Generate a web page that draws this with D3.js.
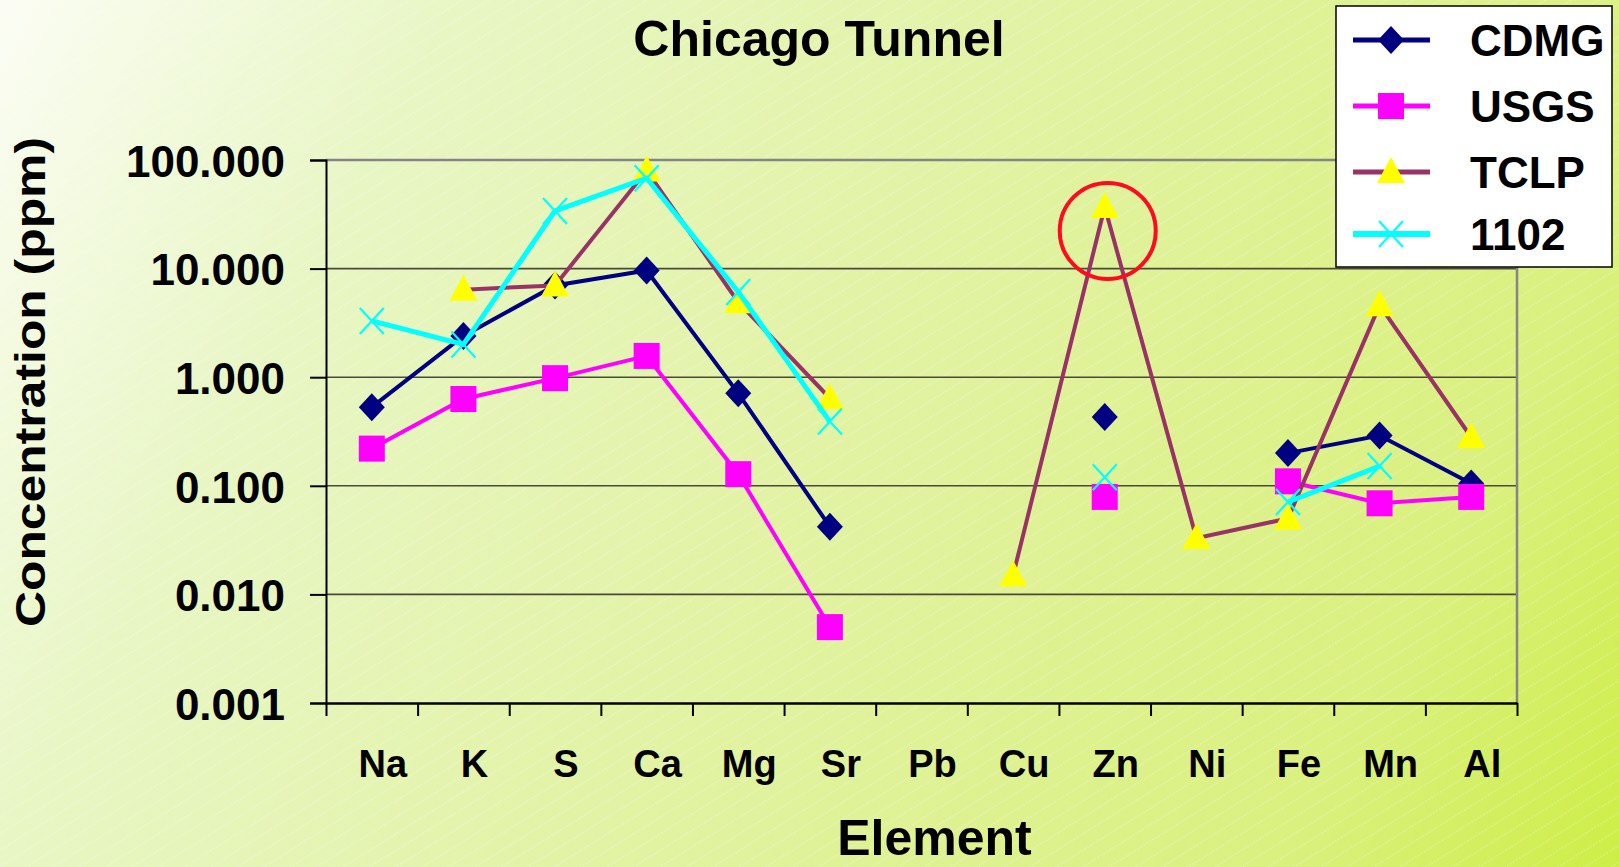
<!DOCTYPE html>
<html>
<head>
<meta charset="utf-8">
<script src="https://cdn.jsdelivr.net/npm/d3@7"></script>
<style>
  html, body { margin: 0; padding: 0; background: #fff; }
  svg { display: block; }
  text { font-family: "Liberation Sans", Arial, sans-serif; font-weight: bold; fill: #000; }
</style>
</head>
<body>
<svg id="chart" width="1619" height="867"></svg>
<script>
// ---- data ----
const categories = ["Na", "K", "S", "Ca", "Mg", "Sr", "Pb", "Cu", "Zn", "Ni", "Fe", "Mn", "Al"];
const cdmg  = [0.53, 2.4, 7.0, 9.6, 0.71, 0.042, null, null, 0.43, null, 0.20, 0.29, 0.105];
const usgs  = [0.22, 0.63, 0.98, 1.57, 0.128, 0.005, null, null, 0.079, null, 0.11, 0.069, 0.079];
const tclp  = [null, 6.4, 7.0, 80, 4.9, 0.64, null, 0.015, 37, 0.033, 0.050, 4.6, 0.28];
const s1102 = [3.3, 2.0, 34, 68, 6.1, 0.39, null, null, 0.12, null, 0.071, 0.152, null];
const yTicks = [0.001, 0.01, 0.1, 1, 10, 100];
const seriesNames = ["CDMG", "USGS", "TCLP", "1102"];
const title = "Chicago Tunnel";
const xTitle = "Element";
const yTitle = "Concentration (ppm)";
const highlight = { category: "Zn", value: 37 };

// ---- styles ----
const styles = {
  "CDMG": { line: "#000080", fill: "#000080", marker: "diamond", width: 4 },
  "USGS": { line: "#FF00FF", fill: "#FF00FF", marker: "square", width: 4 },
  "TCLP": { line: "#993366", fill: "#FFFF00", marker: "triangle", width: 4 },
  "1102": { line: "#00FFFF", fill: "none",    marker: "x",        width: 5 }
};
const seriesValues = { "CDMG": cdmg, "USGS": usgs, "TCLP": tclp, "1102": s1102 };

const W = 1619, H = 867;
const plot = { left: 326, right: 1517, top: 160, bottom: 703 };

const svg = d3.select("#chart");
const defs = svg.append("defs");

// background gradient
const grad = defs.append("linearGradient").attr("id", "bg")
  .attr("gradientUnits", "userSpaceOnUse")
  .attr("x1", 0).attr("y1", 0).attr("x2", W).attr("y2", H);
[[0, "#fbfdf4"], [0.22, "#e8f6c4"], [0.58, "#e0f29c"], [0.84, "#daf07e"], [1, "#cdee46"]]
  .forEach(([o, c]) => grad.append("stop").attr("offset", o).attr("stop-color", c));

// hatch pattern
const pat = defs.append("pattern").attr("id", "hatch")
  .attr("patternUnits", "userSpaceOnUse").attr("width", 14).attr("height", 14)
  .attr("patternTransform", "rotate(-32)");
pat.append("line").attr("x1", 0).attr("y1", 7).attr("x2", 14).attr("y2", 7)
  .attr("stroke", "#ffffff").attr("stroke-width", 0.8).attr("stroke-opacity", 0.45)
  .attr("stroke-dasharray", "2,1.5");

svg.append("rect").attr("width", W).attr("height", H).attr("fill", "url(#bg)");
svg.append("rect").attr("width", W).attr("height", H).attr("fill", "url(#hatch)");

// scales
const x = d3.scaleBand().domain(categories).range([plot.left, plot.right]).padding(0);
const cx = c => x(c) + x.bandwidth() / 2;
const xEdge = d3.scaleLinear().domain([0, categories.length]).range([plot.left, plot.right]);
const y = d3.scaleLog().domain([0.001, 100]).range([plot.bottom, plot.top]);

// gridlines
svg.append("g").selectAll("line").data(yTicks.filter(v => v > 0.001 && v < 100)).join("line")
  .attr("x1", plot.left).attr("x2", plot.right)
  .attr("y1", d => y(d)).attr("y2", d => y(d))
  .attr("stroke", "#4a4a3a").attr("stroke-width", 1.6);
// top border (100 gridline) and right border
svg.append("line").attr("x1", plot.left).attr("x2", plot.right)
  .attr("y1", y(100)).attr("y2", y(100)).attr("stroke", "#858585").attr("stroke-width", 2.5);
svg.append("line").attr("x1", plot.right).attr("x2", plot.right)
  .attr("y1", y(100)).attr("y2", plot.bottom).attr("stroke", "#858585").attr("stroke-width", 2.5);

// y axis
const yAxis = svg.append("g").attr("transform", `translate(${plot.left},0)`)
  .call(d3.axisLeft(y).tickValues(yTicks).tickFormat(d3.format(".3f")).tickSize(16).tickPadding(25));
yAxis.select(".domain").attr("stroke", "#000").attr("stroke-width", 2);
yAxis.selectAll(".tick line").attr("stroke", "#000").attr("stroke-width", 2);
yAxis.selectAll(".tick text").attr("font-size", 44).attr("font-family", "Liberation Sans, Arial, sans-serif")
  .attr("font-weight", "bold").attr("fill", "#000").attr("dy", "0.37em");

// x axis (ticks at category boundaries)
const xAxis = svg.append("g").attr("transform", `translate(0,${plot.bottom})`)
  .call(d3.axisBottom(xEdge).tickValues(d3.range(categories.length + 1)).tickFormat("").tickSize(13).tickSizeOuter(0));
xAxis.select(".domain").attr("stroke", "#000").attr("stroke-width", 2.5);
xAxis.selectAll(".tick line").attr("stroke", "#000").attr("stroke-width", 2);

svg.append("g").selectAll("text").data(categories).join("text")
  .attr("x", d => cx(d) + 11).attr("y", 777)
  .attr("text-anchor", "middle").attr("font-size", 38).text(d => d);

// series
const line = d3.line().defined(d => d.v != null).x(d => cx(d.c)).y(d => y(d.v));
function drawMarker(g, type, fill, px, py) {
  if (type === "diamond") {
    g.append("path").attr("d", `M${px},${py - 14}L${px + 13},${py}L${px},${py + 14}L${px - 13},${py}Z`).attr("fill", fill);
  } else if (type === "square") {
    g.append("rect").attr("x", px - 13).attr("y", py - 13).attr("width", 26).attr("height", 26).attr("fill", fill);
  } else if (type === "triangle") {
    g.append("path").attr("d", `M${px},${py - 15}L${px + 14},${py + 11}L${px - 14},${py + 11}Z`).attr("fill", fill);
  } else if (type === "x") {
    g.append("path").attr("d", `M${px - 12},${py - 13}L${px + 12},${py + 13}M${px - 12},${py + 13}L${px + 12},${py - 13}`)
      .attr("stroke", "#00FFFF").attr("stroke-width", 2.2).attr("fill", "none");
  }
}
seriesNames.forEach(name => {
  const st = styles[name];
  const data = categories.map((c, i) => ({ c, v: seriesValues[name][i] }));
  const g = svg.append("g");
  g.append("path").attr("d", line(data)).attr("fill", "none")
    .attr("stroke", st.line).attr("stroke-width", st.width).attr("stroke-linejoin", "miter");
  data.filter(d => d.v != null).forEach(d => drawMarker(g, st.marker, st.fill, cx(d.c), y(d.v)));
});

// highlight circle
svg.append("ellipse")
  .attr("cx", cx(highlight.category) + 3).attr("cy", y(highlight.value) + 24)
  .attr("rx", 48).attr("ry", 48)
  .attr("fill", "none").attr("stroke", "#ff0a1e").attr("stroke-width", 4);

// titles
svg.append("text").attr("x", 819).attr("y", 56).attr("text-anchor", "middle").attr("font-size", 50).text(title);
svg.append("text").attr("x", (plot.left + plot.right) / 2 + 13).attr("y", 855).attr("text-anchor", "middle")
  .attr("font-size", 50).text(xTitle);
svg.append("text").attr("transform", `translate(45,382) rotate(-90)`).attr("text-anchor", "middle")
  .attr("font-family", "DejaVu Sans, Verdana, sans-serif").attr("font-size", 42)
  .attr("textLength", 490).attr("lengthAdjust", "spacingAndGlyphs").text(yTitle);

// legend
const lg = svg.append("g");
lg.append("rect").attr("x", 1336).attr("y", 6).attr("width", 276).attr("height", 261)
  .attr("fill", "#fff").attr("stroke", "#000").attr("stroke-width", 1.5);
const legendY = [40, 106, 172, 234];
seriesNames.forEach((name, i) => {
  const st = styles[name];
  const ly = legendY[i];
  lg.append("line").attr("x1", 1353).attr("x2", 1430).attr("y1", ly).attr("y2", ly)
    .attr("stroke", st.line).attr("stroke-width", st.width + 1);
  drawMarker(lg, st.marker, st.fill, 1391, ly);
  lg.append("text").attr("x", 1470).attr("y", ly + 16).attr("font-size", 44).text(name);
});
</script>
</body>
</html>
